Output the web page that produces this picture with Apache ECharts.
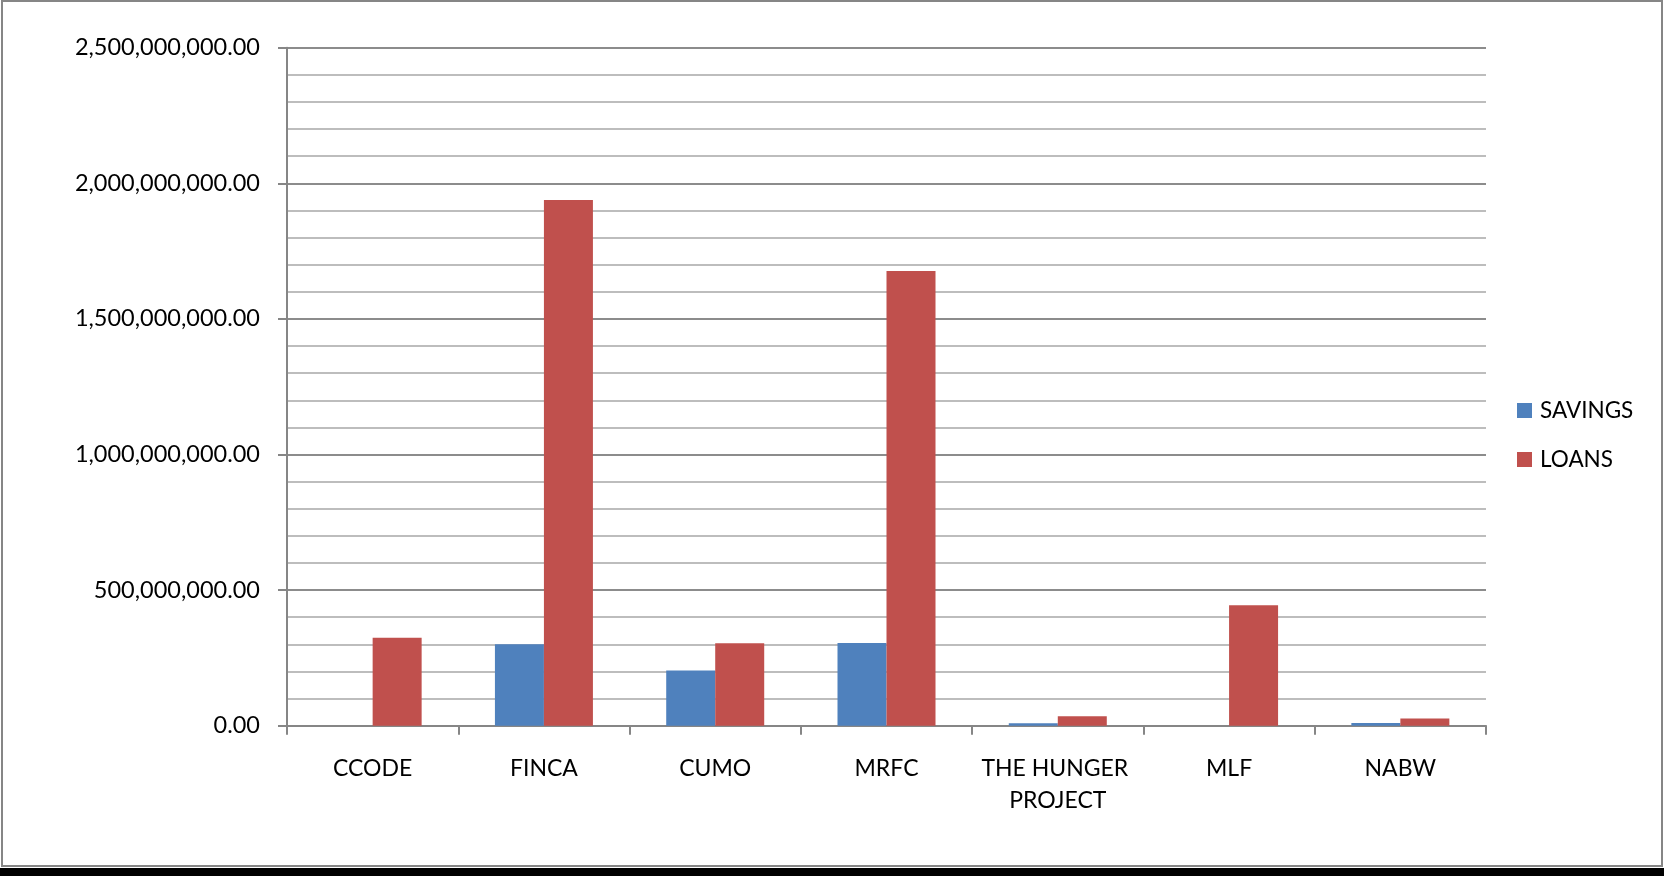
<!DOCTYPE html>
<html>
<head>
<meta charset="utf-8">
<script src="https://cdn.jsdelivr.net/npm/echarts@6/dist/echarts.min.js"></script>
<style>
html,body{margin:0;padding:0;background:#fff;}
#chart{width:1664px;height:876px;}
</style>
</head>
<body>
<div id="chart"></div>
<script>
const categories = ['CCODE', 'FINCA', 'CUMO', 'MRFC', 'THE HUNGER PROJECT', 'MLF', 'NABW'];
const savings = [0, 300000000, 204000000, 305000000, 9000000, 0, 10000000];
const loans = [324000000, 1938000000, 304000000, 1677000000, 35000000, 444000000, 27000000];
const seriesNames = ['SAVINGS', 'LOANS'];

const FONT = 'Lato';
const chart = echarts.init(document.getElementById('chart'));
chart.setOption({
  animation: false,
  backgroundColor: '#ffffff',
  textStyle: { fontFamily: FONT, color: '#000' },
  graphic: [
    { type: 'rect', shape: { x: 2, y: 1, width: 1660, height: 865 }, style: { fill: 'none', stroke: '#868686', lineWidth: 2 }, z: 100 },
    { type: 'rect', shape: { x: 0, y: 868, width: 1664, height: 8 }, style: { fill: '#000' }, z: 100 }
  ],
  grid: { left: 287, right: 178, top: 47.7, bottom: 150.3, containLabel: false },
  legend: {
    orient: 'vertical',
    left: 1512,
    top: 394,
    icon: 'rect',
    itemWidth: 15,
    itemHeight: 15,
    itemGap: 26,
    textStyle: { fontFamily: FONT, fontSize: 22.5, color: '#000', padding: [0, 0, 0, 3] },
    data: seriesNames
  },
  xAxis: {
    type: 'category',
    data: categories,
    axisLine: { lineStyle: { color: '#868686', width: 2 } },
    axisTick: { show: true, length: 9, lineStyle: { color: '#868686', width: 2 } },
    axisLabel: {
      interval: 0, margin: 27, fontFamily: FONT, fontSize: 23, color: '#000',
      lineHeight: 32, width: 165, overflow: 'break', align: 'center'
    },
    splitLine: { show: false }
  },
  yAxis: {
    type: 'value',
    min: 0,
    max: 2500000000,
    interval: 500000000,
    axisLine: { show: true, lineStyle: { color: '#868686', width: 2 } },
    axisTick: { show: true, length: 9, lineStyle: { color: '#868686', width: 2 } },
    axisLabel: {
      margin: 27, fontFamily: FONT, fontSize: 23.5, color: '#000',
      formatter: v => v.toLocaleString('en-US', { minimumFractionDigits: 2, maximumFractionDigits: 2 })
    },
    splitLine: { show: true, lineStyle: { color: '#8c8c8c', width: 2 } },
    minorTick: { show: false, splitNumber: 5 },
    minorSplitLine: { show: true, lineStyle: { color: '#bdbdbd', width: 2 } }
  },
  series: [
    {
      name: seriesNames[0], type: 'bar', data: savings, barWidth: 49, barGap: '0%',
      itemStyle: { color: '#4F81BD' }
    },
    {
      name: seriesNames[1], type: 'bar', data: loans, barWidth: 49, barGap: '0%',
      itemStyle: { color: '#C0504D' }
    }
  ]
});
</script>
</body>
</html>
